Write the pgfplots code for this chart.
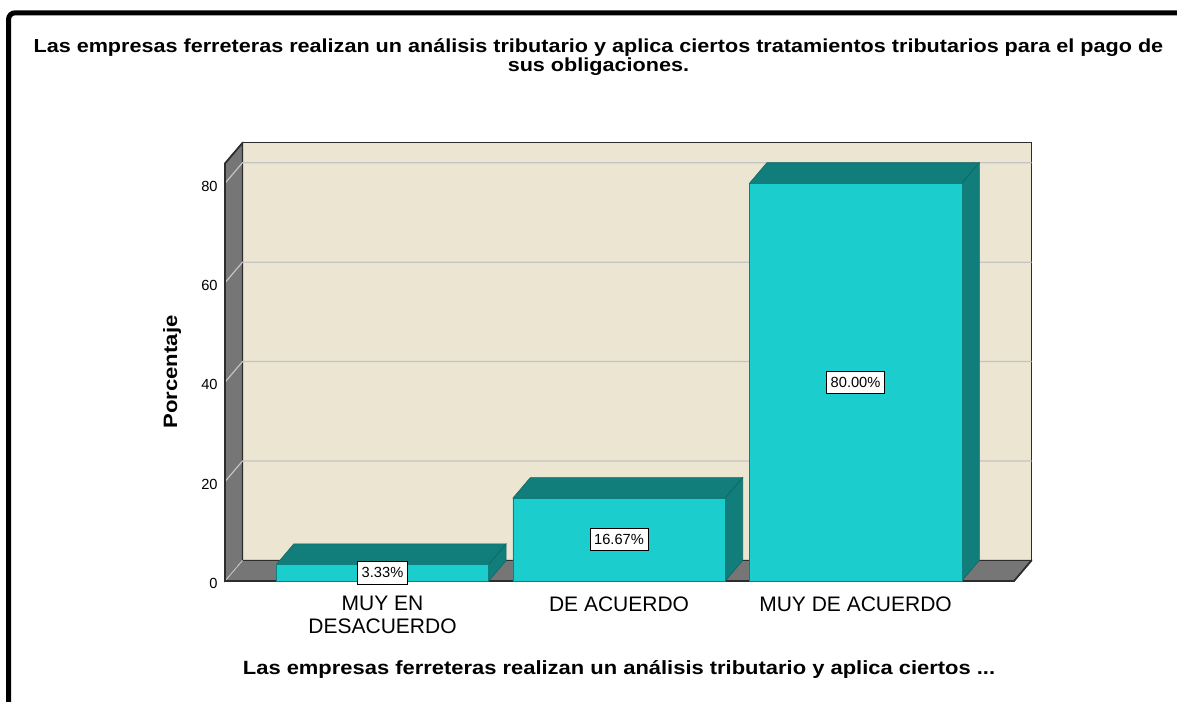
\documentclass[border=0pt]{standalone}
\usepackage{pgfplots}
\pgfplotsset{compat=1.18}
\usepackage{fontspec}
\setmainfont{Liberation Sans}
\newfontfamily\widefont[FakeStretch=1.145]{Liberation Sans}
\definecolor{wallbg}{RGB}{235,229,209}
\definecolor{wallgray}{RGB}{118,118,118}
\definecolor{tealF}{RGB}{28,205,205}
\definecolor{tealD}{RGB}{17,126,123}
\definecolor{gridc}{RGB}{196,196,196}
\definecolor{edgec}{RGB}{45,45,45}
\begin{document}
\begin{tikzpicture}
\path[use as bounding box] (0,0) rectangle (882.75pt,526.5pt);
\draw[black, line width=3.75pt, rounded corners=5pt] (6.4pt,-5pt) -- (6.4pt,516.9pt) -- (890pt,516.9pt);
\begin{axis}[
  at={(168.75pt,90.75pt)}, anchor=south west,
  scale only axis, width=604.9pt, height=328.6pt,
  xmin=0.334, xmax=3.744, ymin=0, ymax=88.14,
  clip=false,
  axis line style={draw=none},
  major tick length=0pt,
  ytick={0,20,40,60,80},
  xtick={1,2,3},
  xticklabels={{MUY EN\\DESACUERDO},{DE ACUERDO},{MUY DE ACUERDO}},
  xticklabel style={align=center, font=\fontsize{15.75}{17.25}\selectfont, yshift=-8pt},
  yticklabel style={font=\fontsize{11}{12}\selectfont, xshift=-2pt, yshift=-2pt},
  /pgf/number format/assume math mode=true,
  title={\begin{tabular}{@{}c@{}}Las empresas ferreteras realizan un análisis tributario y aplica ciertos tratamientos tributarios para el pago de\\sus obligaciones.\end{tabular}},
  title style={at={(axis description cs:0.463,1.176)}, anchor=center, inner sep=0pt, font=\widefont\bfseries\fontsize{14.15}{13.5}\selectfont},
  xlabel={Las empresas ferreteras realizan un análisis tributario y aplica ciertos ...},
  xlabel style={at={(axis description cs:0.4886,-0.2008)}, anchor=center, font=\widefont\bfseries\fontsize{14.37}{15}\selectfont},
  ylabel={Porcentaje},
  ylabel style={at={(axis description cs:-0.0657,0.477)}, anchor=center, font=\widefont\bfseries\fontsize{14.5}{15}\selectfont},
]
% back wall
\addplot[fill=wallbg, draw=edgec, line width=0.8pt] coordinates {(0.408,4.14)(3.744,4.14)(3.744,88.14)(0.408,88.14)} -- cycle;
% left wall
\addplot[fill=wallgray, draw=edgec, line width=0.8pt] coordinates {(0.334,0)(0.408,4.14)(0.408,88.14)(0.334,84)} -- cycle;
% floor
\addplot[fill=wallgray, draw=edgec, line width=0.8pt] coordinates {(0.334,0)(3.670,0)(3.744,4.14)(0.408,4.14)} -- cycle;
% grid lines
\addplot[gridc, line width=0.9pt] coordinates {(0.334,0)(0.408,4.14)};
\addplot[gridc, line width=0.9pt] coordinates {(0.334,20)(0.408,24.14)(3.744,24.14)};
\addplot[gridc, line width=0.9pt] coordinates {(0.334,40)(0.408,44.14)(3.744,44.14)};
\addplot[gridc, line width=0.9pt] coordinates {(0.334,60)(0.408,64.14)(3.744,64.14)};
\addplot[gridc, line width=0.9pt] coordinates {(0.334,80)(0.408,84.14)(3.744,84.14)};
% outer silhouette
\addplot[draw=edgec, line width=1.3pt] coordinates {(0.408,88.14)(0.334,84)(0.334,0)(3.670,0)(3.744,4.14)};
% bar 1 (3.33)
\addplot[fill=tealD, draw=tealD!80!black, line width=0.4pt] coordinates {(0.551,3.33)(1.449,3.33)(1.523,7.47)(0.625,7.47)} -- cycle;
\addplot[fill=tealD, draw=tealD!80!black, line width=0.4pt] coordinates {(1.449,0)(1.523,4.14)(1.523,7.47)(1.449,3.33)} -- cycle;
% bar 2 (16.67)
\addplot[fill=tealD, draw=tealD!80!black, line width=0.4pt] coordinates {(1.551,16.67)(2.449,16.67)(2.523,20.81)(1.625,20.81)} -- cycle;
\addplot[fill=tealD, draw=tealD!80!black, line width=0.4pt] coordinates {(2.449,0)(2.523,4.14)(2.523,20.81)(2.449,16.67)} -- cycle;
% bar 3 (80)
\addplot[fill=tealD, draw=tealD!80!black, line width=0.4pt] coordinates {(2.551,80)(3.449,80)(3.523,84.14)(2.625,84.14)} -- cycle;
\addplot[fill=tealD, draw=tealD!80!black, line width=0.4pt] coordinates {(3.449,0)(3.523,4.14)(3.523,84.14)(3.449,80)} -- cycle;
% front faces
\addplot[ybar, bar width=0.898, bar shift=0, fill=tealF, draw=tealD, line width=0.4pt] coordinates {(1,3.33)(2,16.67)(3,80)};
% labels
\addplot[draw=none, mark=none, nodes near coords, point meta=explicit symbolic,
  nodes near coords style={anchor=center, fill=white, draw=black, line width=0.6pt, font=\fontsize{11}{12}\selectfont, inner xsep=3pt, inner ysep=4.5pt}]
  coordinates {(1,1.665)[3.33\%] (2,8.335)[16.67\%] (3,40)[80.00\%]};
\end{axis}
\end{tikzpicture}
\end{document}
